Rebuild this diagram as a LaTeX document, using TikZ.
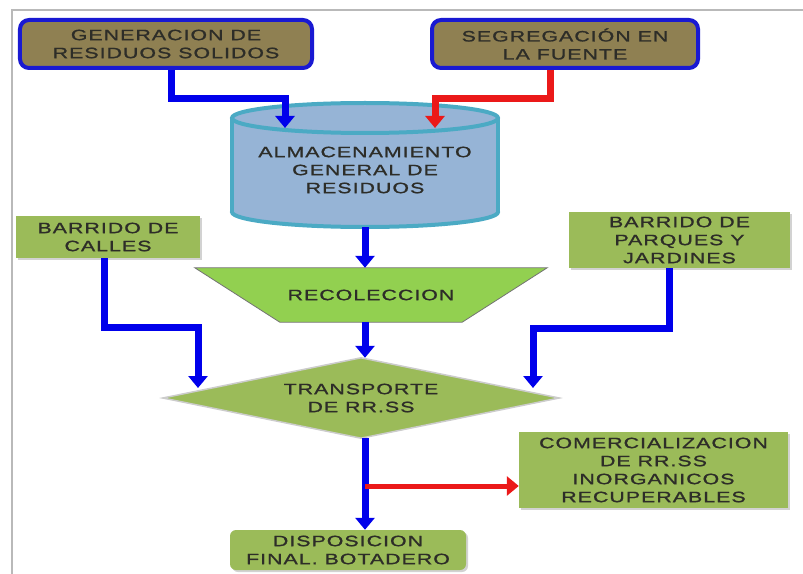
\documentclass[tikz,border=0pt]{standalone}
\usepackage{fontspec}
\newfontfamily\labfont[FakeStretch=1.42,LetterSpace=7,FakeBold=1.2]{Liberation Sans}
\usetikzlibrary{arrows.meta,shadows,calc}
\pgfdeclarelayer{background}
\pgfsetlayers{background,main}
\definecolor{oliveFill}{RGB}{143,128,82}
\definecolor{blueB}{RGB}{25,25,210}
\definecolor{blueA}{RGB}{0,0,235}
\definecolor{redA}{RGB}{235,25,25}
\definecolor{cylFill}{RGB}{150,180,214}
\definecolor{cylLine}{RGB}{75,170,196}
\definecolor{grnBox}{RGB}{155,187,89}
\definecolor{grnTrap}{RGB}{146,208,80}
\definecolor{txtDark}{RGB}{45,45,40}
\definecolor{frameGray}{RGB}{185,185,185}
\begin{document}
\begin{tikzpicture}[x=1bp,y=-1bp,
  lab/.style={font=\labfont\fontsize{15bp}{18bp}\selectfont, text=txtDark, align=center, inner sep=0pt},
  topbox/.style={lab, rounded corners=9bp, draw=blueB, line width=4bp, fill=oliveFill},
  grnbox/.style={lab, fill=grnBox, drop shadow={shadow xshift=2bp,shadow yshift=-2bp,fill=black!35,opacity=.5}},
  bluearr/.style={draw=blueA, line width=7bp, -{Triangle[width=19bp,length=12bp]}},
  redarr/.style={bluearr, draw=redA},
  cylline/.style={draw=cylLine, line width=4bp}
]
\useasboundingbox (0,0) rectangle (803,574);
\draw[frameGray, line width=1.5bp] (12,574) -- (12,10) -- (803,10);

% top boxes
\node[topbox, minimum width=292bp, minimum height=48bp] (gen) at (166,44) {GENERACION DE\\RESIDUOS SOLIDOS};
\node[topbox, minimum width=266bp, minimum height=48bp] (seg) at (565,44) {SEGREGACIÓN EN\\LA FUENTE};

% cylinder
\draw[cylline, fill=cylFill] (365,212) ellipse [x radius=133, y radius=15];
\fill[cylFill] (232,118) rectangle (498,212);
\draw[cylline] (232,118) -- (232,212) (498,118) -- (498,212);
\draw[cylline, fill=cylFill] (365,118) ellipse [x radius=133, y radius=15];
\node[lab, minimum width=266bp, minimum height=114bp] (cyl) at (365,170) {ALMACENAMIENTO\\GENERAL DE\\RESIDUOS};

% side boxes
\node[grnbox, minimum width=184bp, minimum height=42bp] (calles) at (108,237) {BARRIDO DE\\CALLES};
\node[grnbox, minimum width=221bp, minimum height=56bp] (parq) at (679.5,240) {BARRIDO DE\\PARQUES Y\\JARDINES};

% recoleccion
\node[lab, minimum width=352bp, minimum height=54bp] (rec) at (371,295) {RECOLECCION};
% transporte
\node[lab, minimum width=396bp, minimum height=80bp] (tr) at (361,398) {TRANSPORTE\\DE RR.SS};
\begin{pgfonlayer}{background}
\draw[fill=grnTrap, draw=black!55, line width=0.8bp] (rec.north west) -- (rec.north east) -- ($(rec.south east)+(-85,0)$) -- ($(rec.south west)+(85,0)$) -- cycle;
\draw[fill=grnBox, draw=black!20, line width=1.5bp] (tr.west) -- (tr.north) -- (tr.east) -- (tr.south) -- cycle;
\end{pgfonlayer}

% bottom boxes
\node[grnbox, minimum width=269bp, minimum height=76bp] (com) at (653.5,470) {COMERCIALIZACION\\DE RR.SS\\INORGANICOS\\RECUPERABLES};
\node[grnbox, rounded corners=6bp, minimum width=236bp, minimum height=40bp] (disp) at (348,550) {DISPOSICION\\FINAL. BOTADERO};

% connectors
\coordinate (gtip) at (285,128);
\coordinate (stip) at (435,128);
\coordinate (ltip) at (198,388);
\coordinate (rtip) at (533,388);
\coordinate (split) at (365,486);
\draw[bluearr] ([xshift=5bp]gen.south) -- ++(0,29) -| (gtip);
\draw[redarr] ([xshift=-15bp]seg.south) -- ++(0,29) -| (stip);
\draw[bluearr] (cyl.south) -- (cyl.south |- rec.north);
\draw[bluearr] (rec.south -| cyl.south) -- (cyl.south |- tr.north);
\draw[bluearr] ([xshift=-4bp]calles.south) -- ++(0,69) -| (ltip);
\draw[bluearr] ([xshift=-10bp]parq.south) -- ++(0,60) -| (rtip);
\draw[bluearr] (tr.south -| cyl.south) -- (cyl.south |- disp.north);
\draw[redarr, line width=5bp] (split) -- (split -| com.west);
\end{tikzpicture}
\end{document}
